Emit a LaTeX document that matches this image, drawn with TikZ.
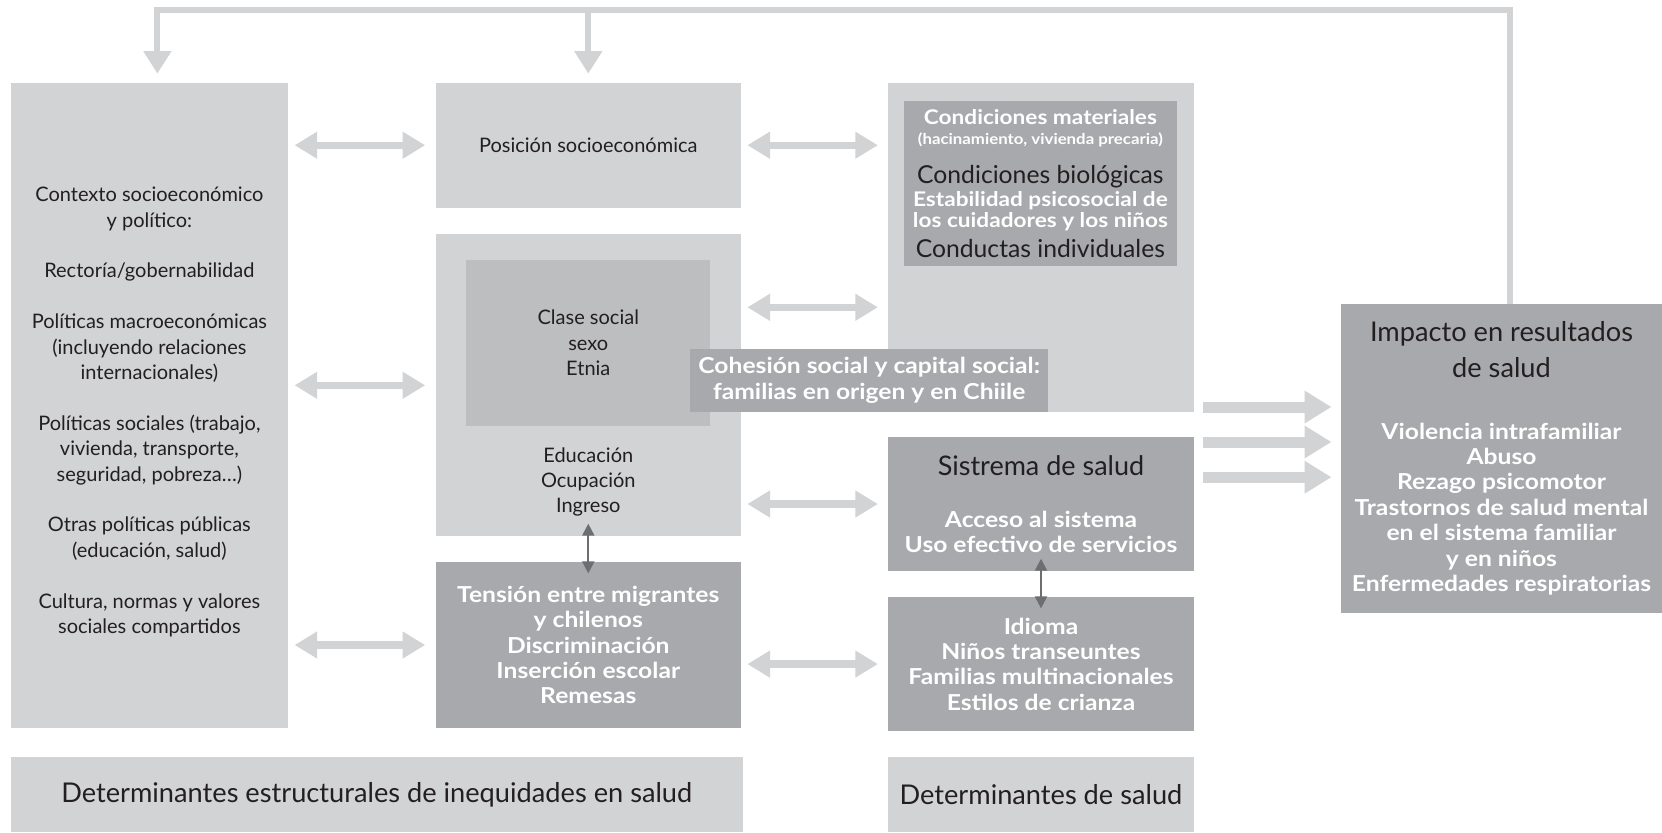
\documentclass[tikz,border=0pt]{standalone}
\usepackage{fontspec}
\setmainfont{Lato}
\newfontfamily\widesans[FakeStretch=1.12]{Lato}
\usetikzlibrary{arrows.meta}

\definecolor{boxlight}{HTML}{D1D3D4}
\definecolor{boxmid}{HTML}{BCBEC0}
\definecolor{boxdark}{HTML}{A7A9AC}
\definecolor{tiegray}{HTML}{6D6E71}
\definecolor{ink}{HTML}{231F20}

% plain black heading inside a dark box
\newcommand{\darkhead}[2][13.5]{{\rmfamily\mdseries\color{ink}\fontsize{#1}{#1}\selectfont #2}}

\begin{document}
\begin{tikzpicture}[x=0.5pt,y=-0.5pt]
        % Define styles
        \tikzset{
            light/.style={rectangle, fill=boxlight, inner sep=0pt, align=center, text=ink, font=\fontsize{10}{12.7}\selectfont},
            dark/.style={rectangle, fill=boxdark, inner sep=0pt, align=center, text=white, font=\widesans\fontsize{11}{12.7}\selectfont\bfseries},
            link/.style={{Triangle[width=12.8pt,length=11.3pt]}-{Triangle[width=12.8pt,length=11.3pt]}, line width=3.7pt, draw=boxlight, shorten <=3pt, shorten >=5pt},
            feed/.style={-{Triangle[width=13.3pt,length=11.2pt]}, line width=3pt, draw=boxlight},
            flow/.style={-{Triangle[width=15.5pt,length=13.5pt]}, line width=5.5pt, draw=boxlight, shorten <=4.5pt, shorten >=4.5pt},
            tie/.style={{Triangle[width=6pt,length=6pt]}-{Triangle[width=6pt,length=6pt]}, line width=1pt, draw=tiegray, shorten <=-6.5pt, shorten >=-6pt}
        }
        \useasboundingbox (0,0) rectangle (1662,832);

        % Structural determinants
        \node[light, minimum width=138.8pt, minimum height=322.8pt] (context) at (149.4,405.4) {};
        \node[text=ink, align=center, font=\fontsize{10}{12.7}\selectfont] (context_text) at (149.4,412) {Contexto socioeconómico\\y político:\\[12.7pt]Rectoría/gobernabilidad\\[12.7pt]Políticas macroeconómicas\\(incluyendo relaciones\\internacionales)\\[12.7pt]Políticas sociales (trabajo,\\vivienda, transporte,\\seguridad, pobreza…)\\[12.7pt]Otras políticas públicas\\(educación, salud)\\[12.7pt]Cultura, normas y valores\\sociales compartidos};
        \node[light, minimum width=152.7pt, minimum height=62.6pt] (position) at (588.3,145.2) {Posición socioeconómica};
        \node[light, minimum width=152.7pt, minimum height=151pt] (strata) at (588.3,385.3) {};
        \node[light, fill=boxmid, minimum width=121.9pt, minimum height=83.2pt] (social_class) at (588.3,342.9) {Clase social\\sexo\\Etnia};
        \node[text=ink, align=center, font=\fontsize{10}{12.7}\selectfont] (income) at (588.3,482) {Educación\\Ocupación\\Ingreso};
        \node[dark, minimum width=152.7pt, minimum height=83.2pt] (tension) at (588.3,645) {Tensión entre migrantes\\y chilenos\\Discriminación\\Inserción escolar\\Remesas};

        % Intermediary determinants
        \node[light, minimum width=152.7pt, minimum height=164.8pt] (conditions) at (1041,247.5) {};
        \node[dark, minimum width=136.2pt, minimum height=82.7pt, font=\widesans\fontsize{10.1}{10.6}\selectfont\bfseries] (material) at (1040.4,183.4) {Condiciones materiales\\[-0.8pt]{\fontsize{7.5}{9}\selectfont (hacinamiento, vivienda precaria)}\\[9.3pt]\darkhead[12.35]{Condiciones biológicas}\\[0.5pt]Estabilidad psicosocial de\\los cuidadores y los niños\\[3.2pt]\darkhead[12.35]{Conductas individuales}};
        \node[dark, minimum width=179.2pt, minimum height=31.8pt] (cohesion) at (869.2,380.5) {Cohesión social y capital social:\\familias en origen y en Chiile};
        \node[dark, minimum width=152.7pt, minimum height=67.3pt] (health_system) at (1041,504) {\darkhead{Sistrema de salud}\\[13.3pt]Acceso al sistema\\Uso efectivo de servicios};
        \node[dark, minimum width=152.7pt, minimum height=67.3pt] (family) at (1041,664.1) {Idioma\\Niños transeuntes\\Familias multinacionales\\Estilos de crianza};

        % Outcomes
        \node[dark, minimum width=160.6pt, minimum height=154.3pt] (impact) at (1501.5,458.5) {\darkhead[13.6]{Impacto en resultados}\\[5.3pt]\darkhead[13.6]{de salud}\\[18pt]Violencia intrafamiliar\\Abuso\\Rezago psicomotor\\Trastornos de salud mental\\en el sistema familiar\\y en niños\\Enfermedades respiratorias};

        % Captions
        \node[light, minimum width=366.2pt, minimum height=37.6pt, font=\fontsize{13.6}{15}\selectfont] (structural_label) at (376.8,794.4) {Determinantes estructurales de inequidades en salud};
        \node[light, minimum width=152.7pt, minimum height=37.6pt, font=\fontsize{13.6}{15}\selectfont] (health_label) at (1041,794.4) {Determinantes de salud};

        % Arrows
        \draw[link] (context.east |- position.west) -- (position.west);
        \draw[link] (context.east |- strata.west) -- (strata.west);
        \draw[link] (context.east |- tension.west) -- (tension.west);
        \draw[link] (position.east) -- (position.east -| conditions.west);
        \coordinate (strata_out) at ([yshift=39pt]strata.east);
        \draw[link] (strata_out) -- (strata_out -| conditions.west);
        \draw[link] (strata.east |- health_system.west) -- (health_system.west);
        \draw[link] (tension.east |- family.west) -- (family.west);
        \draw[tie] (strata.south) -- (tension.north);
        \draw[tie] (health_system.south) -- (family.north);

        \coordinate (in_1) at ([yshift=25.75pt]impact.west);
        \coordinate (in_2) at ([yshift=8.25pt]impact.west);
        \coordinate (in_3) at ([yshift=-9.35pt]impact.west);
        \draw[flow] (conditions.east |- in_1) -- (in_1);
        \draw[flow] (conditions.east |- in_2) -- (in_2);
        \draw[flow] (conditions.east |- in_3) -- (in_3);

        % Feedback
        \coordinate (top) at (0,9.7);
        \coordinate (context_top) at ([xshift=4pt]context.north);
        \draw[feed, shorten >=4.3pt] ([xshift=4.25pt]impact.north) |- (top -| context_top) -- (context_top);
        \draw[feed, shorten >=4.3pt] (top -| position.north) -- (position.north);
    \end{tikzpicture}
\end{document}
